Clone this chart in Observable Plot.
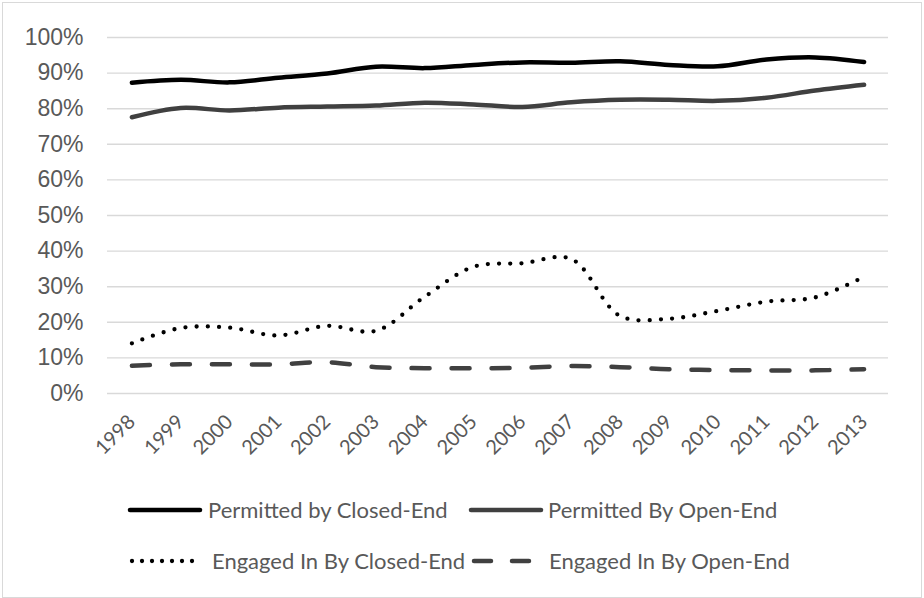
<!DOCTYPE html>
<html><head><meta charset="utf-8">
<script src="https://cdn.jsdelivr.net/npm/d3@7"></script>
<script src="https://cdn.jsdelivr.net/npm/@observablehq/plot@0.6"></script>
<style>
html,body{margin:0;padding:0;background:#fff;}
#wrap{position:relative;width:924px;height:598px;overflow:hidden;background:#fff;}
#chart svg,#legend svg{display:block;}
#frame{position:absolute;left:2px;top:2px;width:920px;height:596px;border:1.5px solid #d9d9d9;box-sizing:border-box;pointer-events:none;}
</style></head><body>
<div id="wrap"><div id="chart"></div><div id="legend"></div><div id="frame"></div></div>
<script>
const years = [1998,1999,2000,2001,2002,2003,2004,2005,2006,2007,2008,2009,2010,2011,2012,2013];
const permittedClosed = [87.3,88.1,87.4,88.7,89.9,91.8,91.4,92.3,93.0,92.9,93.3,92.3,91.9,93.8,94.4,93.1];
const permittedOpen   = [77.6,80.2,79.5,80.3,80.6,80.9,81.7,81.2,80.5,81.8,82.5,82.5,82.2,83.1,85.1,86.7];
const engagedClosed   = [14.1,18.4,18.5,16.3,19.0,17.6,27.2,35.6,36.6,37.8,21.8,21.0,23.2,25.8,27.0,32.8];
const engagedOpen     = [7.8,8.2,8.2,8.2,8.8,7.4,7.1,7.1,7.2,7.7,7.4,6.8,6.6,6.5,6.5,6.8];
const yTicks = [0,10,20,30,40,50,60,70,80,90,100];
const seriesNames = ["Permitted by Closed-End","Permitted By Open-End","Engaged In By Closed-End","Engaged In By Open-End"];

const styles = [
  {stroke:"#000000", strokeWidth:4.5, strokeDasharray:null},
  {stroke:"#404040", strokeWidth:4.5, strokeDasharray:null},
  {stroke:"#000000", strokeWidth:4.3, strokeDasharray:"0 11.2"},
  {stroke:"#404040", strokeWidth:4.5, strokeDasharray:"18 22"}
];
const seriesValues = [permittedClosed, permittedOpen, engagedClosed, engagedOpen];
const tables = seriesValues.map((vals, s) => years.map((yr, i) => ({year: yr, value: vals[i], series: seriesNames[s]})));

const chart = Plot.plot({
  width: 924, height: 470,
  marginLeft: 107, marginRight: 36, marginTop: 37, marginBottom: 77,
  x: {domain: [1997.5, 2013.5], label: null},
  y: {domain: [0, 100], label: null},
  marks: [
    Plot.ruleY(yTicks, {stroke: "#d9d9d9", strokeWidth: 1.4}),
    Plot.axisY(yTicks, {tickSize: 0, tickPadding: 24, tickFormat: d => d + "%", fontSize: 23, fontFamily: "'Liberation Sans', Arial, sans-serif", color: "#595959", label: null}),
    Plot.axisX(years, {tickSize: 0, tickPadding: 25, tickRotate: -45, tickFormat: d => String(d), fontSize: 20, fontFamily: "Lato, 'Open Sans', sans-serif", color: "#595959", label: null}),
    ...tables.map((t, s) => Plot.line(t, {
      x: "year", y: "value", curve: "catmull-rom",
      stroke: styles[s].stroke, strokeWidth: styles[s].strokeWidth,
      strokeDasharray: styles[s].strokeDasharray, strokeLinecap: "round", strokeLinejoin: "round"
    }))
  ]
});
document.getElementById("chart").appendChild(chart);

// Legend below the plot
const lg = d3.select("#legend").append("svg").attr("width", 924).attr("height", 128);
const items = [
  {s: 0, x1: 130, x2: 200, tx: 208, y: 40},
  {s: 1, x1: 471, x2: 541, tx: 548, y: 40},
  {s: 2, x1: 132, x2: 194, tx: 212, y: 91},
  {s: 3, x1: 474, x2: 532, tx: 549, y: 91}
];
items.forEach(it => {
  const st = styles[it.s];
  lg.append("line").attr("x1", it.x1).attr("x2", it.x2).attr("y1", it.y).attr("y2", it.y)
    .attr("stroke", st.stroke).attr("stroke-width", st.strokeWidth)
    .attr("stroke-linecap", "round")
    .attr("stroke-dasharray", it.s === 2 ? "0 10" : (it.s === 3 ? "17 21" : null));
  lg.append("text").attr("x", it.tx).attr("y", it.y).attr("dy", "0.35em")
    .attr("fill", "#595959").attr("font-family", "Lato, 'Open Sans', sans-serif").attr("font-size", 22)
    .text(seriesNames[it.s]);
});
</script>
</body></html>
